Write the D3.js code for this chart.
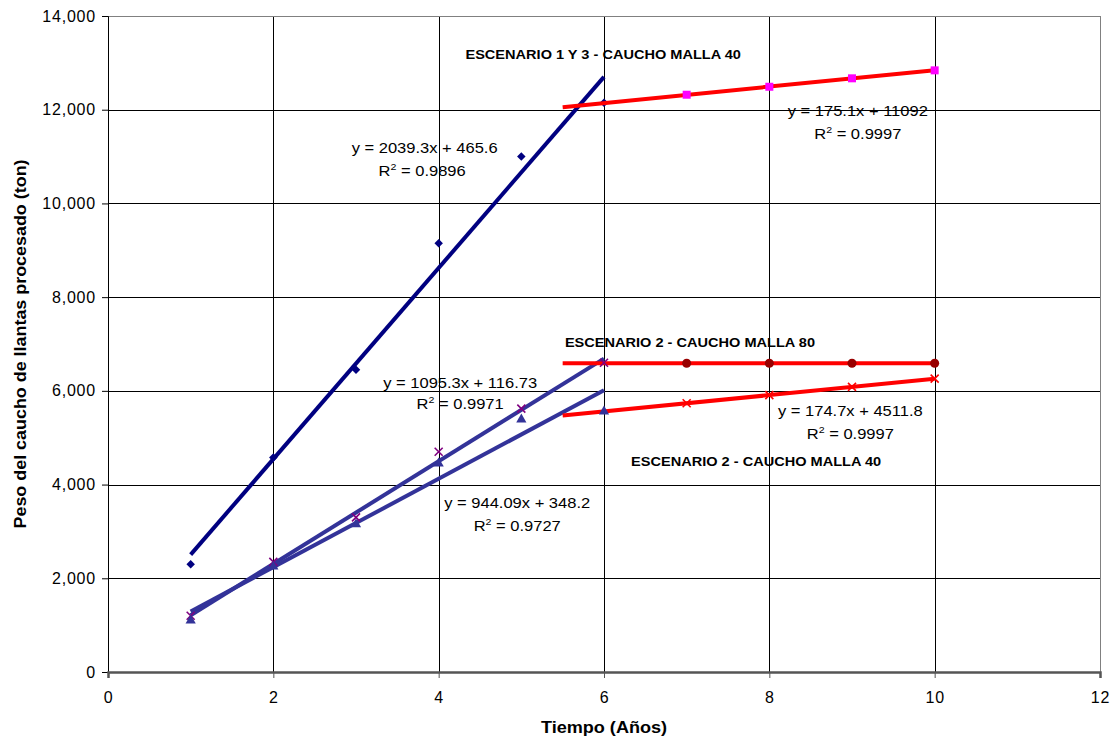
<!DOCTYPE html>
<html>
<head>
<meta charset="utf-8">
<script src="https://cdn.jsdelivr.net/npm/d3@7"></script>
<style>
  body { margin: 0; background: #fff; }
  svg { font-family: "Liberation Sans", Arial, sans-serif; }
</style>
</head>
<body>
<svg id="chart" width="1117" height="740"></svg>
<script>
// years 1-6 (first stage) and 6-10 (second stage)
const years = [1, 2, 3, 4, 5, 6];
const yearsLater = [6, 7, 8, 9, 10];

const esc13Malla40 = [2300, 4580, 6450, 9150, 11000, 12150];
const esc2Malla80 = [1200, 2350, 3300, 4700, 5620, 6600];
const esc2Malla40 = [1100, 2250, 3150, 4450, 5390, 5560];

const esc13Later = [12150, 12320, 12490, 12670, 12840];
const esc2M80Later = [6590, 6590, 6590, 6590, 6590];
const esc2M40Later = [5560, 5735, 5910, 6085, 6260];

// trendlines as reported on the chart: slope, intercept, x range
const trendSlopes = [2039.3, 1095.3, 944.09, 175.1, 0, 174.7];
const trendIntercepts = [465.6, 116.73, 348.2, 11092, 6590, 4511.8];
const trendFrom = [1, 1, 1, 5.5, 5.5, 5.5];
const trendTo = [6, 6, 6, 10, 10, 10];
const trendColors = ["#000080", "#333399", "#333399", "#ff0000", "#ff0000", "#ff0000"];

const xTicks = [0, 2, 4, 6, 8, 10, 12];
const yTicks = [0, 2000, 4000, 6000, 8000, 10000, 12000, 14000];

// annotations: text, x (years), y (ton), bold
const notes = [
  ["y = 2039.3x + 465.6", 3.83, 11076, false],
  ["R2 = 0.9896", 3.80, 10585, false],
  ["ESCENARIO 1 Y 3 - CAUCHO MALLA 40", 5.99, 13082, true],
  ["y = 175.1x + 11092", 9.07, 11866, false],
  ["R2 = 0.9997", 9.07, 11375, false],
  ["ESCENARIO 2 - CAUCHO MALLA 80", 7.04, 6936, true],
  ["y = 1095.3x + 116.73", 4.26, 6061, false],
  ["R2 = 0.9971", 4.26, 5613, false],
  ["y = 174.7x + 4511.8", 8.98, 5463, false],
  ["R2 = 0.9997", 8.98, 4972, false],
  ["ESCENARIO 2 - CAUCHO MALLA 40", 7.84, 4396, true],
  ["y = 944.09x + 348.2", 4.95, 3500, false],
  ["R2 = 0.9727", 4.95, 3009, false]
];

let svg = d3.select("svg#chart"),
margin = { top: 16, right: 17, bottom: 68, left: 108 },
width = svg.attr("width") - margin.left - margin.right,
height = svg.attr("height") - margin.top - margin.bottom,
g = svg.append("g").attr("transform", `translate(${margin.left},${margin.top})`);

var x = d3.scaleLinear().domain([0, 12]).range([0, width]);
var y = d3.scaleLinear().domain([0, 14000]).range([height, 0]);

// grid
g.append("g").selectAll("line.gx")
  .data(xTicks.slice(1))
  .enter().append("line")
  .attr("x1", d => Math.round(x(d)) + 0.5).attr("x2", d => Math.round(x(d)) + 0.5)
  .attr("y1", 0).attr("y2", height)
  .attr("stroke", d => d === 12 ? "#808080" : "#000").attr("stroke-width", 1);
g.append("g").selectAll("line.gy")
  .data(yTicks.slice(1))
  .enter().append("line")
  .attr("x1", 0).attr("x2", width)
  .attr("y1", d => Math.round(y(d)) + 0.5).attr("y2", d => Math.round(y(d)) + 0.5)
  .attr("stroke", d => d === 14000 ? "#808080" : "#000").attr("stroke-width", 1);

// axes
var yAxis = d3.axisLeft(y).tickValues(yTicks).tickFormat(d3.format(",")).tickSize(6).tickPadding(6);
var xAxis = d3.axisBottom(x).tickValues(xTicks).tickSize(6).tickPadding(14);

g.append("g").attr("class", "axis")
  .call(yAxis)
  .call(a => a.select(".domain").attr("stroke", "#000"))
  .call(a => a.selectAll("text").attr("font-size", 16).attr("fill", "#000")
    .attr("font-family", "Liberation Sans, Arial").attr("letter-spacing", 0.8));

g.append("g").attr("class", "axis")
  .attr("transform", `translate(0,${height})`)
  .call(xAxis)
  .call(a => a.select(".domain").attr("stroke", "#555").attr("stroke-width", 2.5))
  .call(a => a.selectAll(".tick line").attr("stroke", "#555"))
  .call(a => a.selectAll("text").attr("font-size", 16).attr("fill", "#000")
    .attr("font-family", "Liberation Sans, Arial").attr("letter-spacing", 0.8));

// axis titles (Excel renders its text a bit wider than Arial)
svg.append("text")
  .attr("transform", "translate(604,733) scale(1.13,1)")
  .attr("text-anchor", "middle")
  .attr("font-size", 16).attr("font-weight", "bold")
  .text("Tiempo (Años)");
svg.append("text")
  .attr("transform", "translate(26,344) rotate(-90) scale(1.12,1)")
  .attr("text-anchor", "middle")
  .attr("font-size", 16).attr("font-weight", "bold")
  .text("Peso del caucho de llantas procesado (ton)");

// marker helpers
function diamond(sel, xs, ys, color) {
  sel.selectAll(null).data(xs).enter().append("rect")
    .attr("x", -3).attr("y", -3).attr("width", 6).attr("height", 6)
    .attr("transform", (d, i) => `translate(${x(d)},${y(ys[i])}) rotate(45)`)
    .attr("fill", color);
}
function cross(sel, xs, ys, color) {
  sel.selectAll(null).data(xs).enter().append("path")
    .attr("d", "M-4,-4L4,4M-4,4L4,-4")
    .attr("transform", (d, i) => `translate(${x(d)},${y(ys[i])})`)
    .attr("stroke", color).attr("stroke-width", 1.6).attr("fill", "none");
}
function symbol(sel, xs, ys, type, size, color) {
  sel.selectAll(null).data(xs).enter().append("path")
    .attr("d", d3.symbol().type(type).size(size))
    .attr("transform", (d, i) => `translate(${x(d)},${y(ys[i])})`)
    .attr("fill", color);
}

var marks = g.append("g");
diamond(marks, years, esc13Malla40, "#000080");

// trendlines
var line = d3.line().x(d => x(d[0])).y(d => y(d[1]));
g.append("g").selectAll("path")
  .data(trendSlopes)
  .enter().append("path")
  .attr("d", (m, i) => line([
    [trendFrom[i], m * trendFrom[i] + trendIntercepts[i]],
    [trendTo[i], m * trendTo[i] + trendIntercepts[i]]
  ]))
  .attr("stroke", (d, i) => trendColors[i])
  .attr("stroke-width", 4)
  .attr("fill", "none");

var marks2 = g.append("g");
cross(marks2, years, esc2Malla80, "#800080");
symbol(marks2, years, esc2Malla40, d3.symbolTriangle, 45, "#333399");
symbol(marks2, yearsLater.slice(1), esc13Later.slice(1), d3.symbolSquare, 64, "#ff00ff");
symbol(marks2, yearsLater.slice(1), esc2M80Later.slice(1), d3.symbolCircle, 64, "#990000");
cross(marks2, yearsLater.slice(1), esc2M40Later.slice(1), "#ff0000");

// annotations
notes.forEach(n => {
  let t = g.append("text")
    .attr("transform", `translate(${x(n[1])},${y(n[2])}) scale(${n[3] ? 1.12 : 1.18},1)`)
    .attr("text-anchor", "middle")
    .attr("fill", "#000");
  if (n[3]) {
    t.attr("font-size", 13).attr("font-weight", "bold").text(n[0]);
  } else if (n[0].startsWith("R2")) {
    t.attr("font-size", 14);
    t.append("tspan").text("R");
    t.append("tspan").attr("font-size", 9).attr("dy", -6).text("2");
    t.append("tspan").attr("dy", 6).text(n[0].slice(2));
  } else {
    t.attr("font-size", 14).text(n[0]);
  }
});
</script>
</body>
</html>
